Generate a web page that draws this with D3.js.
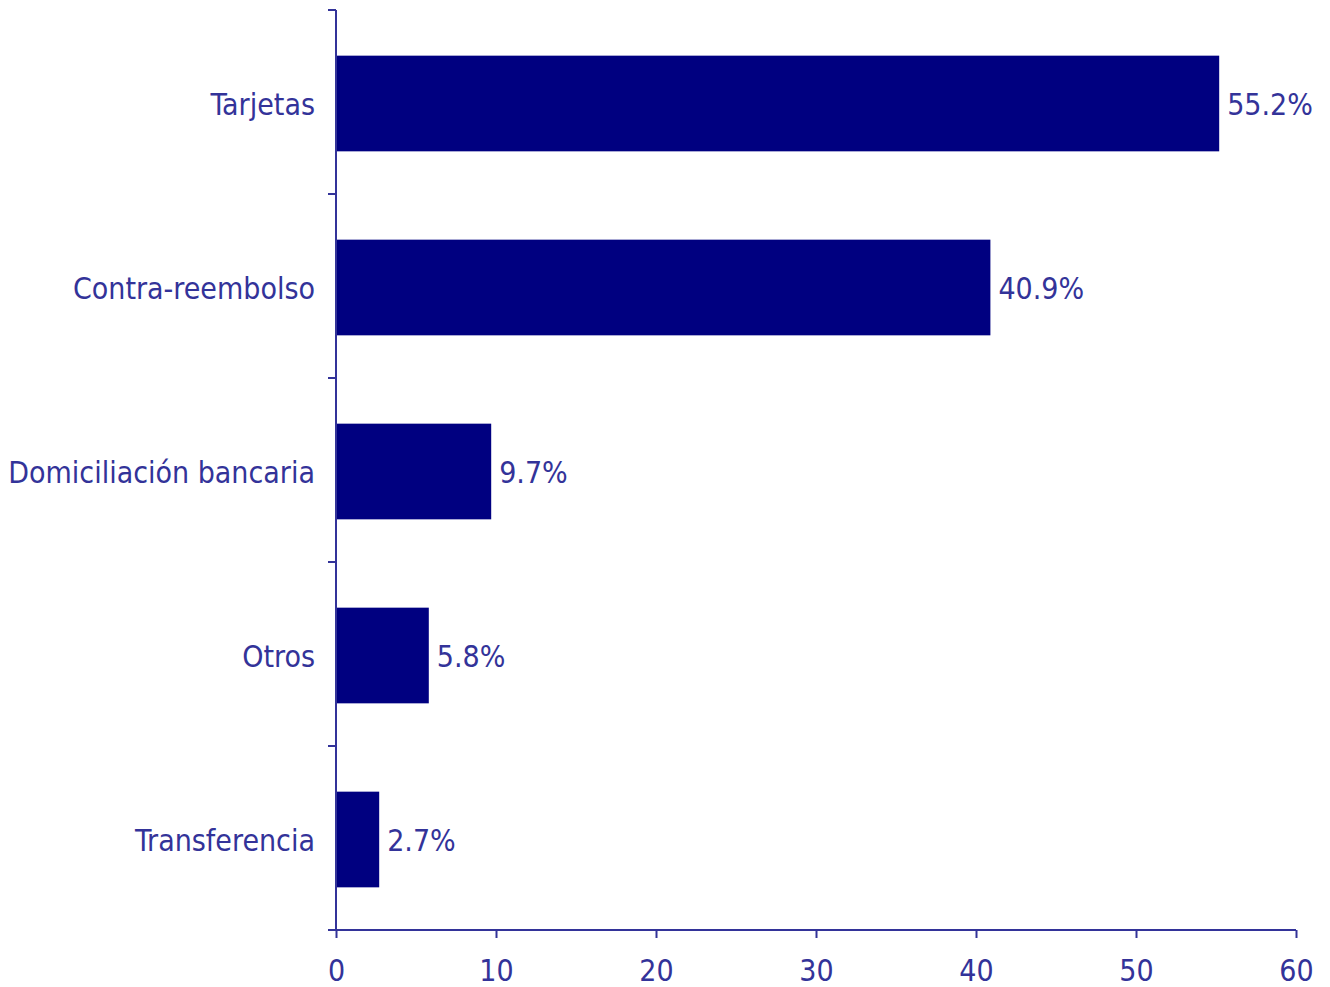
<!DOCTYPE html>
<html>
<head>
<meta charset="utf-8">
<script src="https://cdn.jsdelivr.net/npm/d3@7"></script>
<style>
  html, body { margin: 0; padding: 0; background: #fff; }
  svg { display: block; }
</style>
</head>
<body>
<svg id="chart" width="1330" height="987"></svg>
<script>
// Payment methods used in online purchases (% of buyers)
const categories = ["Tarjetas", "Contra-reembolso", "Domiciliación bancaria", "Otros", "Transferencia"];
const values = [55.2, 40.9, 9.7, 5.8, 2.7];
const xTicks = [0, 10, 20, 30, 40, 50, 60];

const barColor = "#000080";
const inkColor = "#333399";
const fontFamily = "'DejaVu Sans Condensed', 'DejaVu Sans', Verdana, sans-serif";
const fontSize = 30;

const svg = d3.select("#chart");
const margin = { left: 336, right: 34, top: 10, bottom: 57 };
const W = 1330, H = 987;

const x = d3.scaleLinear().domain([0, 60]).range([margin.left, W - margin.right]);
const y = d3.scaleBand().domain(categories)
  .range([margin.top, H - margin.bottom])
  .paddingInner(0.48).paddingOuter(0.24);

// Bars
svg.append("g").selectAll("rect")
  .data(categories)
  .join("rect")
  .attr("x", x(0))
  .attr("y", d => y(d) + 1.5)
  .attr("width", (d, i) => x(values[i]) - x(0))
  .attr("height", y.bandwidth())
  .attr("fill", barColor);

// Value labels
svg.append("g").selectAll("text")
  .data(categories)
  .join("text")
  .attr("x", (d, i) => x(values[i]) + 8)
  .attr("y", d => y(d) + y.bandwidth() / 2 + 2)
  .attr("dy", "0.36em")
  .attr("fill", inkColor)
  .style("font-family", fontFamily)
  .style("font-size", fontSize + "px")
  .text((d, i) => values[i].toFixed(1) + "%");

// X axis
const xAxis = svg.append("g")
  .attr("transform", `translate(0,${H - margin.bottom})`)
  .call(d3.axisBottom(x).tickValues(xTicks).tickSize(8).tickSizeOuter(0).tickPadding(22).tickFormat(d3.format("d")));
xAxis.select(".domain").attr("stroke", inkColor).attr("stroke-width", 2)
  .attr("d", `M${x(0) - 8},0H${x(60)}`);
xAxis.selectAll(".tick line").attr("stroke", inkColor).attr("stroke-width", 2);
xAxis.selectAll(".tick text")
  .attr("fill", inkColor)
  .style("font-family", fontFamily)
  .style("font-size", fontSize + "px");

// Y axis: vertical line with ticks at the band boundaries
const yAxis = svg.append("g");
const [y0, y1] = y.range();
yAxis.append("line")
  .attr("x1", x(0)).attr("x2", x(0))
  .attr("y1", y0).attr("y2", y1)
  .attr("stroke", inkColor).attr("stroke-width", 2);
const boundaries = d3.range(categories.length + 1).map(i => y0 + i * y.step());
yAxis.selectAll("line.tick")
  .data(boundaries)
  .join("line")
  .attr("class", "tick")
  .attr("x1", x(0) - 8).attr("x2", x(0))
  .attr("y1", d => d).attr("y2", d => d)
  .attr("stroke", inkColor).attr("stroke-width", 2);

// Category labels
yAxis.selectAll("text")
  .data(categories)
  .join("text")
  .attr("x", x(0) - 21)
  .attr("y", d => y(d) + y.bandwidth() / 2 + 2)
  .attr("dy", "0.36em")
  .attr("text-anchor", "end")
  .attr("fill", inkColor)
  .style("font-family", fontFamily)
  .style("font-size", fontSize + "px")
  .text(d => d);
</script>
</body>
</html>
